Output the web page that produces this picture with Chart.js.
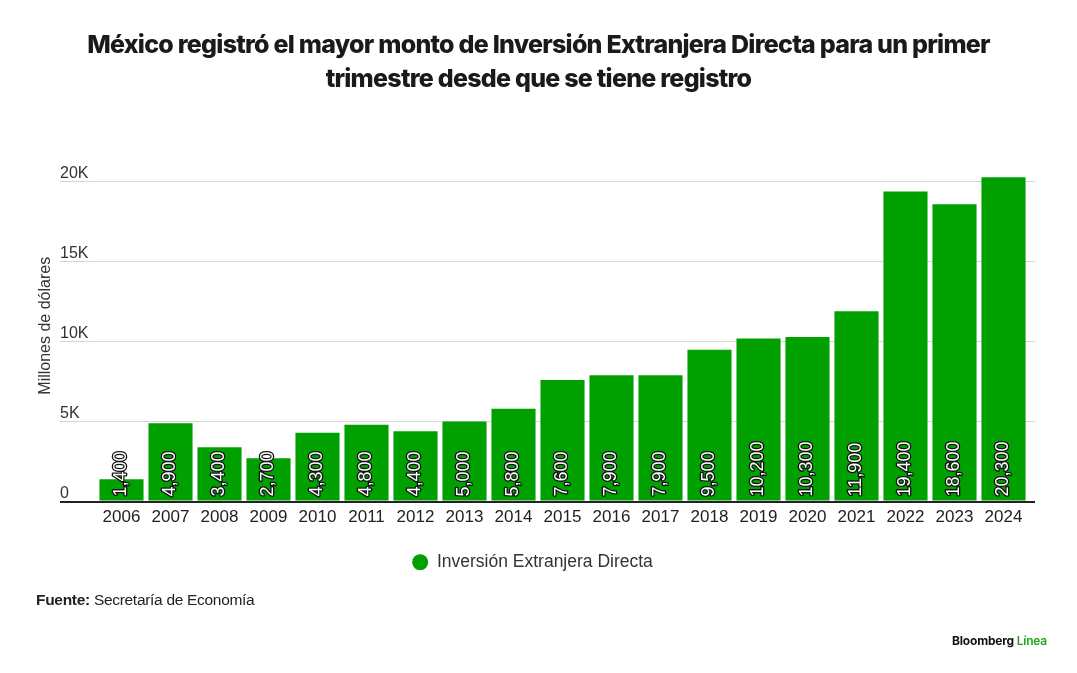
<!DOCTYPE html>
<html lang="es">
<head>
<meta charset="utf-8">
<script src="https://cdn.jsdelivr.net/npm/chart.js@4/dist/chart.umd.min.js"></script>
<style>
  html, body { margin: 0; padding: 0; background: #fff; }
  body { width: 1077px; height: 673px; position: relative; overflow: hidden; }
  #wrap { position: absolute; left: 0; top: 0; width: 1077px; height: 673px; }
  #title {
    position: absolute; left: 0; top: 27px; width: 1077px; text-align: center;
    font-family: Inter, "Liberation Sans", sans-serif; font-weight: 800; font-size: 25px;
    line-height: 34px; letter-spacing: -0.75px; color: #1a1a1a; margin: 0;
  }
  #source {
    position: absolute; left: 36px; top: 591px;
    font-family: "Liberation Sans", Arial, sans-serif; font-size: 15.5px; color: #222;
    letter-spacing: -0.3px;
  }
  #source b { font-weight: 700; }
  #logo {
    position: absolute; right: 30px; top: 633px;
    font-family: Inter, "Liberation Sans", sans-serif; font-size: 12px; font-weight: 700; color: #111;
    letter-spacing: -0.2px;
  }
  #logo span { color: #1fa81f; font-weight: 600; }
</style>
</head>
<body>
<div id="wrap"><canvas id="c" width="1077" height="673"></canvas></div>
<h1 id="title">México registró el mayor monto de Inversión Extranjera Directa para un primer<br>trimestre desde que se tiene registro</h1>
<div id="source"><b>Fuente:</b> Secretaría de Economía</div>
<div id="logo">Bloomberg <span>Línea</span></div>
<script>
const categories = ['2006','2007','2008','2009','2010','2011','2012','2013','2014','2015','2016','2017','2018','2019','2020','2021','2022','2023','2024'];
const seriesName = 'Inversión Extranjera Directa';
const values = [1400, 4900, 3400, 2700, 4300, 4800, 4400, 5000, 5800, 7600, 7900, 7900, 9500, 10200, 10300, 11900, 19400, 18600, 20300];
const yTickValues = [0, 5000, 10000, 15000, 20000];
const yTickLabels = ['0', '5K', '10K', '15K', '20K'];
const yTitle = 'Millones de dólares';

const GREEN = '#00a000';
const GRID = '#d6d6d6';
const BASE = '#222222';

const barLabels = {
  id: 'barLabels',
  afterDatasetsDraw(chart) {
    const ctx = chart.ctx;
    const meta = chart.getDatasetMeta(0);
    const data = chart.data.datasets[0].data;
    ctx.save();
    ctx.font = '18px "Liberation Sans", Arial, sans-serif';
    ctx.textAlign = 'left';
    ctx.textBaseline = 'middle';
    ctx.lineJoin = 'round';
    meta.data.forEach((bar, i) => {
      const txt = data[i].toLocaleString('en-US');
      ctx.save();
      ctx.translate(bar.x, bar.base - 4);
      ctx.rotate(-Math.PI / 2);
      ctx.lineWidth = 2.6;
      ctx.strokeStyle = '#111';
      ctx.strokeText(txt, 0, 0);
      ctx.fillStyle = '#fff';
      ctx.fillText(txt, 0, 0);
      ctx.restore();
    });
    ctx.restore();
  }
};

const keepTicks = (scale) => {
  scale.ticks = yTickValues.map(v => ({ value: v }));
};
const gridColor = (c) => (c.tick && c.tick.value === 0 ? BASE : GRID);
const gridWidth = (c) => (c.tick && c.tick.value === 0 ? 2 : 1);

new Chart(document.getElementById('c'), {
  type: 'bar',
  data: {
    labels: categories,
    datasets: [{
      label: seriesName,
      data: values,
      backgroundColor: GREEN,
      borderWidth: 0,
      categoryPercentage: 0.9,
      barPercentage: 1.0
    }]
  },
  options: {
    responsive: false,
    animation: false,
    devicePixelRatio: 1,
    layout: { padding: { left: 30, right: 42, top: 150, bottom: 92 } },
    plugins: {
      title: { display: false },
      tooltip: { enabled: false },
      legend: {
        display: true,
        position: 'bottom',
        labels: {
          usePointStyle: true,
          pointStyle: 'circle',
          pointStyleWidth: 16,
          boxHeight: 11.3,
          padding: 10,
          color: '#333',
          font: { family: '"Liberation Sans", Arial, sans-serif', size: 17.5 }
        }
      }
    },
    scales: {
      x: {
        type: 'category',
        offset: true,
        grid: { display: false, drawTicks: false },
        border: { display: false },
        ticks: {
          color: '#222',
          padding: 6,
          maxRotation: 0,
          autoSkip: false,
          font: { family: '"Liberation Sans", Arial, sans-serif', size: 17 }
        },
        afterFit: (s) => { s.height = 42; }
      },
      y: {
        type: 'linear',
        position: 'left',
        min: 0,
        max: 22000,
        afterBuildTicks: keepTicks,
        grid: { color: gridColor, lineWidth: gridWidth, drawTicks: true, tickLength: 37 },
        border: { display: false },
        ticks: {
          mirror: true,
          padding: -37,
          labelOffset: -8,
          color: '#333',
          font: { family: '"Liberation Sans", Arial, sans-serif', size: 16 },
          callback: (v) => yTickLabels[yTickValues.indexOf(v)]
        },
        title: {
          display: true,
          text: yTitle,
          color: '#333',
          padding: { top: 6, bottom: 0 },
          font: { family: '"Liberation Sans", Arial, sans-serif', size: 16 }
        },
        afterFit: (s) => { s.width = 67; }
      },
      yR: {
        type: 'linear',
        position: 'right',
        min: 0,
        max: 22000,
        afterBuildTicks: keepTicks,
        grid: { color: gridColor, lineWidth: gridWidth, drawOnChartArea: false, drawTicks: true, tickLength: 7 },
        border: { display: false },
        ticks: { display: false },
        afterFit: (s) => { s.width = 7; }
      }
    }
  },
  plugins: [barLabels]
});
</script>
</body>
</html>
